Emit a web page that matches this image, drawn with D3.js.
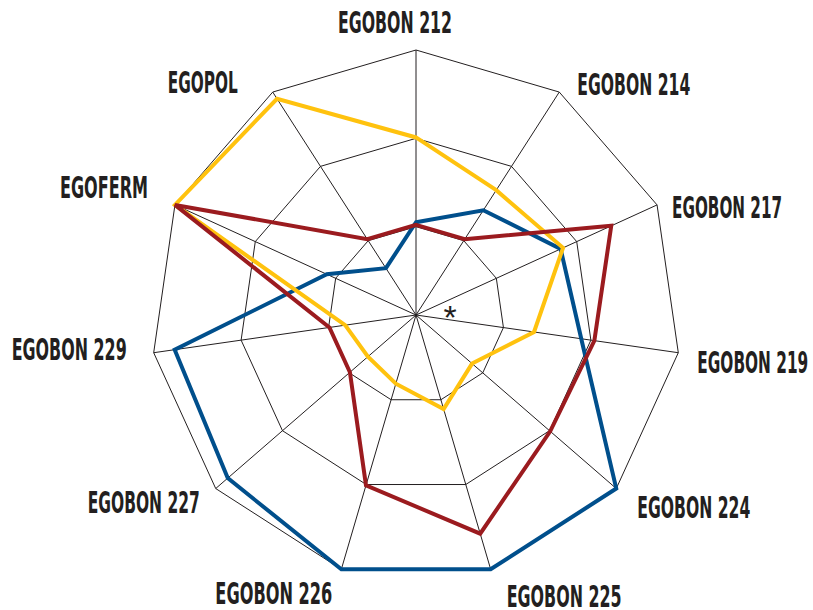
<!DOCTYPE html>
<html>
<head>
<meta charset="utf-8">
<script src="https://cdn.jsdelivr.net/npm/d3@7"></script>
<style>
  html, body { margin: 0; padding: 0; background: #fff; }
  svg { display: block; }
</style>
</head>
<body>
<svg id="chart" width="813" height="610"></svg>
<script>
// ---- data ----
const categories = ["EGOBON 212", "EGOBON 214", "EGOBON 217", "EGOBON 219", "EGOBON 224",
  "EGOBON 225", "EGOBON 226", "EGOBON 227", "EGOBON 229", "EGOFERM", "EGOPOL"];
const seriesBlue   = [35, 47, 60, 63, 100, 100, 100, 94, 92, 37, 21];
const seriesYellow = [67, 56, 61, 45, 28, 37, 27, 24, 27, 100, 97];
const seriesRed    = [34, 34, 81, 68, 67, 86, 67, 33, 33, 100, 34];
const gridLevels = [33.33, 66.67, 100];
const valueMax = 100;

// ---- layout ----
const cx = 416, cy = 315, R = 265;
const colors = { blue: "#004f8c", yellow: "#ffc20e", red: "#9b1b1f" };
// label placement relative to outer vertex: [anchor, dx, dy, width]
const labelLayout = [
  ["middle", -21, -17, 114],
  ["start", 18, 3, 113],
  ["start", 15, 13, 110],
  ["start", 19, 20, 111],
  ["start", 21, 29, 113],
  ["start", 16, 38, 115],
  ["end", -9, 35, 117],
  ["end", -16, 24, 112],
  ["end", -27, 7, 115],
  ["end", -27, -7, 88],
  ["end", -35, 1, 70]
];

const svg = d3.select("#chart");
const angle = d3.scaleBand().domain(categories).range([0, 2 * Math.PI]).paddingInner(0).paddingOuter(0).align(0);
const r = d3.scaleLinear().domain([0, valueMax]).range([0, R]);

function pt(cat, v) {
  const a = angle(cat);
  return [cx + Math.sin(a) * r(v), cy - Math.cos(a) * r(v)];
}

const g = svg.append("g");

// rings
gridLevels.forEach(lv => {
  g.append("path")
    .attr("d", d3.line()(categories.map(c => pt(c, lv))) + "Z")
    .attr("fill", "none")
    .attr("stroke", "#231f20")
    .attr("stroke-width", 1);
});
// spokes
categories.forEach(c => {
  const [x, y] = pt(c, valueMax);
  g.append("line").attr("x1", cx).attr("y1", cy).attr("x2", x).attr("y2", y)
    .attr("stroke", "#231f20").attr("stroke-width", 1);
});

// series
const line = d3.line().curve(d3.curveLinearClosed);
[[seriesBlue, colors.blue], [seriesYellow, colors.yellow], [seriesRed, colors.red]].forEach(([vals, col]) => {
  g.append("path")
    .attr("d", line(categories.map((c, i) => pt(c, vals[i]))))
    .attr("fill", "none")
    .attr("stroke", col)
    .attr("stroke-width", 4)
    .attr("stroke-linejoin", "miter");
});

// labels (condensed look: narrow font, stretched vertically)
categories.forEach((c, i) => {
  const [x, y] = pt(c, valueMax);
  const [anchor, dx, dy, w] = labelLayout[i];
  g.append("text")
    .attr("transform", `translate(${x + dx},${y + dy}) scale(1,1.62)`)
    .attr("text-anchor", anchor)
    .attr("font-family", "'DejaVu Sans Condensed', 'Liberation Sans Narrow', sans-serif")
    .attr("font-weight", "bold")
    .attr("font-size", 18.5)
    .attr("fill", "#231f20")
    .attr("textLength", w)
    .attr("lengthAdjust", "spacingAndGlyphs")
    .text(c);
});

// asterisk
g.append("text")
  .attr("x", 450).attr("y", 329)
  .attr("text-anchor", "middle")
  .attr("font-family", "'Liberation Sans', Arial, sans-serif")
  .attr("font-size", 34)
  .attr("fill", "#231f20")
  .text("*");
</script>
</body>
</html>
